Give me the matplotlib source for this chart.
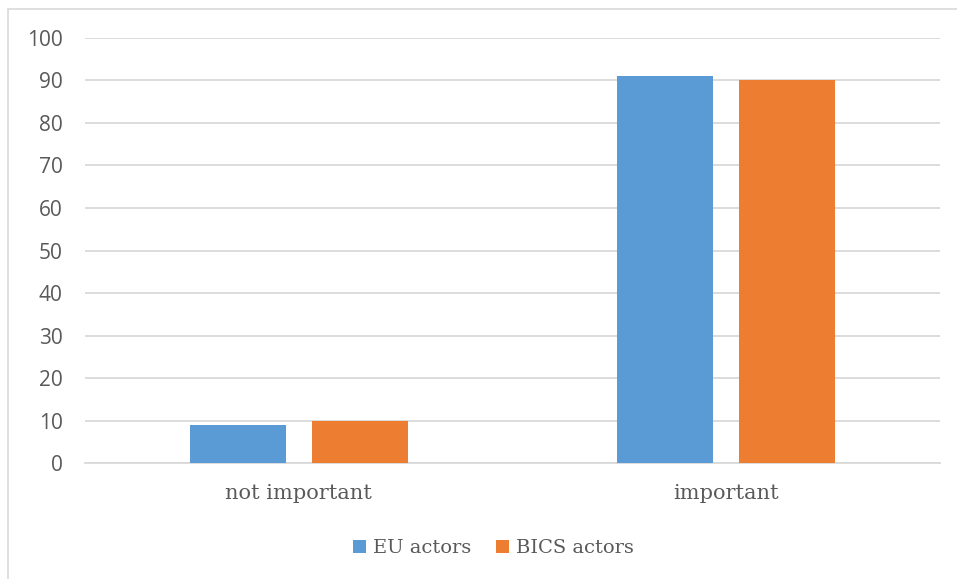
import matplotlib

matplotlib.use("Agg")
import matplotlib.patches as mpatches
import matplotlib.pyplot as plt
import numpy as np

# Chart data
categories = ["not important", "important"]
eu_actors = [9, 91]
bics_actors = [10, 90]
y_ticks = [0, 10, 20, 30, 40, 50, 60, 70, 80, 90, 100]

BLUE = "#5B9BD5"
ORANGE = "#ED7D31"
GRID = "#D9D9D9"
TEXT = "#595959"

fig = plt.figure(figsize=(9.57, 5.79), dpi=100, facecolor="white")
ax = fig.add_axes([0.0888, 0.2003, 0.8935, 0.7341])

x = np.arange(len(categories))
width = 0.2246
offset = 0.1427
ax.bar(x - offset, eu_actors, width, color=BLUE, label="EU actors", zorder=3)
ax.bar(x + offset, bics_actors, width, color=ORANGE, label="BICS actors", zorder=3)

ax.set_xlim(-0.5, len(categories) - 0.5)
ax.set_ylim(0, 100)
ax.set_yticks(y_ticks)
ax.set_yticklabels([str(t) for t in y_ticks], fontfamily="Open Sans", fontsize=15, color=TEXT)
ax.set_xticks(x)
ax.set_xticklabels(categories, fontfamily="DejaVu Serif", fontsize=15, color=TEXT)

ax.yaxis.grid(True, color=GRID, linewidth=1.3, zorder=0)
ax.tick_params(axis="y", length=0, pad=16)
ax.tick_params(axis="x", length=0, pad=15)
for side in ["top", "right", "left"]:
    ax.spines[side].set_visible(False)
ax.spines["bottom"].set_color(GRID)
ax.spines["bottom"].set_linewidth(1.3)

leg = fig.legend(
    loc="center",
    bbox_to_anchor=(493.5 / 957, 1 - 548 / 579),
    ncol=2,
    frameon=False,
    prop={"family": "DejaVu Serif", "size": 14},
    handlelength=0.65,
    handleheight=0.65,
    handletextpad=0.35,
    columnspacing=1.3,
)
for t in leg.get_texts():
    t.set_color(TEXT)

# Chart area border (only left and top visible in the crop)
fig.add_artist(
    mpatches.Rectangle(
        (8 / 957, -0.1), 1.2, 1 - 9 / 579 + 0.1,
        transform=fig.transFigure, fill=False, edgecolor=GRID, linewidth=1.2,
    )
)

plt.savefig("out.png", dpi=100, facecolor="white")
plt.close()
